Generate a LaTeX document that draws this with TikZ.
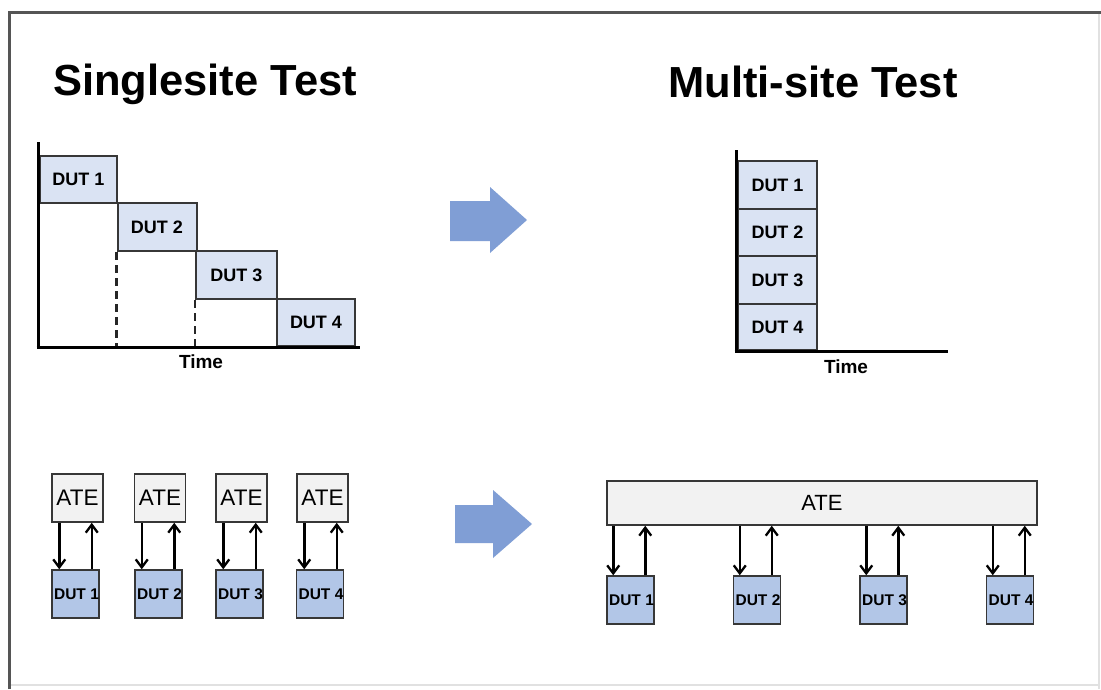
\documentclass[tikz,border=0pt]{standalone}
\usepackage{fontspec}
\setmainfont{Liberation Sans}
\usetikzlibrary{arrows.meta,calc}
\definecolor{frameline}{RGB}{85,85,85}
\definecolor{faintline}{RGB}{225,225,225}
\definecolor{lightdut}{RGB}{218,227,243}
\definecolor{darkdut}{RGB}{178,198,231}
\definecolor{atefill}{RGB}{242,242,242}
\definecolor{boxline}{RGB}{55,55,55}
\definecolor{bigarrow}{RGB}{128,158,213}
\tikzset{
  titletext/.style={font=\fontsize{43.5}{47}\selectfont\bfseries, inner sep=0},
  timetext/.style={font=\fontsize{19}{21}\selectfont\bfseries, inner sep=0},
  axisline/.style={line width=3pt, black},
  slotbox/.style={draw=boxline, line width=2pt, fill=lightdut, inner sep=0,
    minimum width=79pt, minimum height=48pt, font=\fontsize{18}{20}\selectfont\bfseries},
  atebox/.style={draw=boxline, line width=1.5pt, fill=atefill, inner sep=0,
    minimum width=51pt, minimum height=48pt, font=\fontsize{22.5}{24}\selectfont},
  atebar/.style={draw=boxline, line width=1.5pt, fill=atefill, inner sep=0,
    minimum width=430pt, minimum height=44pt, font=\fontsize{22}{24}\selectfont},
  dutbox/.style={draw=boxline, line width=1.5pt, fill=darkdut, inner sep=0,
    minimum width=47pt, minimum height=48pt, font=\fontsize{15.5}{17}\selectfont\bfseries},
  sig/.style={line width=2.5pt, black, -{Straight Barb[length=8pt,width=12pt,line width=2.3pt]}},
  guide/.style={line width=2.5pt, black!85, dash pattern=on 8pt off 5pt},
}
\begin{document}
\begin{tikzpicture}[x=1pt,y=-1pt]
\useasboundingbox (0,0) rectangle (1101,689);
\fill[white] (0,0) rectangle (1101,689);

% outer frame
\draw[faintline, line width=1.5pt] (1099,12) -- (1099,689);
\draw[faintline, line width=1.5pt] (9,685) -- (1099,685);
\draw[frameline, line width=3pt] (9.5,689) -- (9.5,12) -- (1101,12);

% headings
\node[titletext] (hsingle) at (205,84) {Singlesite Test};
\node[titletext] (hmulti) at (813,82) {Multi-site Test};

% ---- single-site timing chart ----
\coordinate (sTop) at (38,142);
\coordinate (sOrig) at (38,347);
\coordinate (sEnd) at (360,347);
\node[slotbox, minimum width=77pt, minimum height=47pt] (s1) at (78.5,179.5) {DUT 1};
\node[slotbox, minimum height=48pt] (s2) at (157,227) {DUT 2};
\node[slotbox, minimum width=81pt, minimum height=48pt] (s3) at (236.5,275) {DUT 3};
\node[slotbox, minimum width=78pt, minimum height=47pt] (s4) at (316,322.5) {DUT 4};
\draw[guide] (s2.south west) -- (s2.south west |- sOrig);
\draw[guide] (s3.south west) -- (s3.south west |- sOrig);
\draw[axisline] (sTop) -- ([yshift=1.5pt]sOrig);
\draw[axisline] ([xshift=-1.5pt]sOrig) -- (sEnd);
\node[timetext] (tsingle) at (201,362) {Time};

% ---- multi-site timing chart ----
\coordinate (mTop) at (736,150);
\coordinate (mOrig) at (736,351);
\coordinate (mEnd) at (948,351);
\node[slotbox, minimum height=48pt] (m1) at (777.5,185) {DUT 1};
\node[slotbox, minimum height=47pt] (m2) at (777.5,232.5) {DUT 2};
\node[slotbox, minimum height=48pt] (m3) at (777.5,280) {DUT 3};
\node[slotbox, minimum height=46pt] (m4) at (777.5,327) {DUT 4};
\draw[axisline] (mTop) -- ([yshift=1.5pt]mOrig);
\draw[axisline] ([xshift=-1.5pt]mOrig) -- (mEnd);
\node[timetext] (tmulti) at (846,367) {Time};

% ---- block arrows ----
\fill[bigarrow] (450,201) -- (490,201) -- (490,187) -- (527,220) -- (490,253)
  -- (490,241) -- (450,241) -- cycle;
\fill[bigarrow] (455,505) -- (493,505) -- (493,490) -- (532,524) -- (493,558)
  -- (493,543) -- (455,543) -- cycle;

% ---- one tester per device ----
\foreach \i/\ax/\dx in {1/77.5/75.5, 2/160/158.5, 3/241.5/239.5, 4/322.5/320} {
  \node[atebox] (a\i) at (\ax,498) {ATE};
  \node[dutbox] (d\i) at (\dx,594) {\hspace*{2pt}DUT \i};
  \draw[sig] ([xshift=8pt]a\i.south west) -- ([xshift=8pt]a\i.south west |- d\i.north);
  \draw[sig] ([xshift=-12pt]a\i.south east |- d\i.north) -- ([xshift=-12pt]a\i.south east);
}

% ---- one tester, four sites ----
\node[atebar] (bar) at (822,503) {ATE};
\foreach \i/\dx in {1/630.5, 2/757, 3/883.5, 4/1010} {
  \node[dutbox] (e\i) at (\dx,600) {\hspace*{2pt}DUT \i};
  \draw[sig] ([xshift=7pt]e\i.north west |- bar.south) -- ([xshift=7pt]e\i.north west);
  \draw[sig] ([xshift=39pt]e\i.north west) -- ([xshift=39pt]e\i.north west |- bar.south);
}
\end{tikzpicture}
\end{document}
